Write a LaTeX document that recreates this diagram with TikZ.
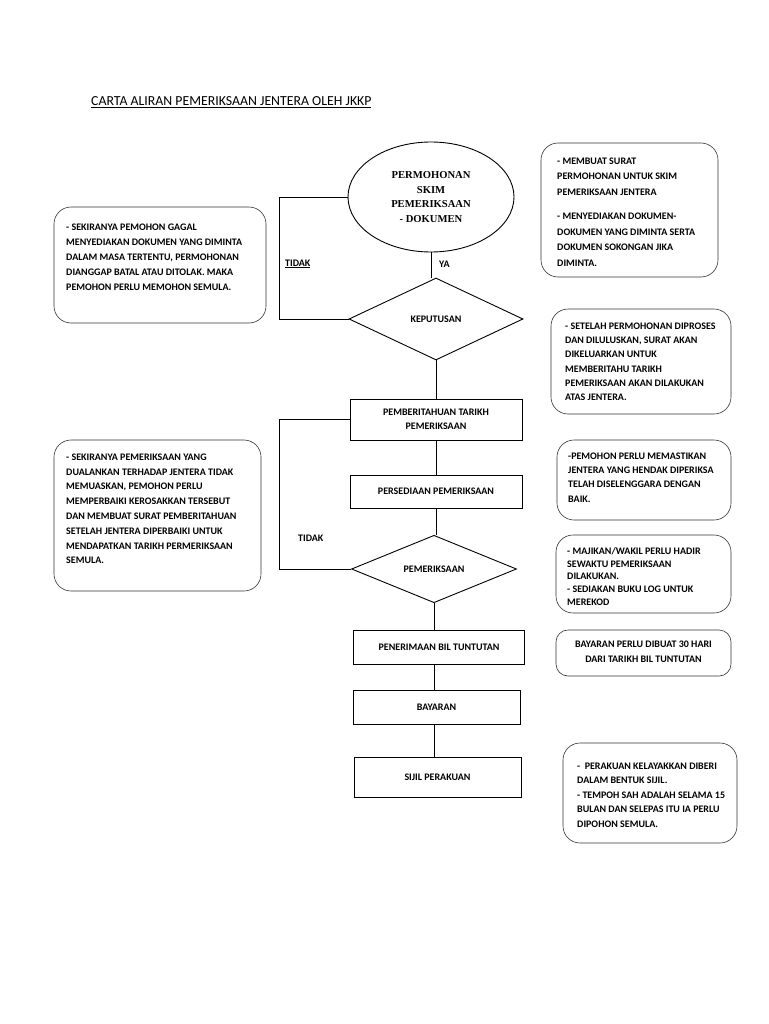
\documentclass[tikz,border=0pt]{standalone}
\usepackage{fontspec}
\setmainfont{Carlito}
\newfontfamily\serifb{Liberation Serif}
\usetikzlibrary{shapes.geometric}
\begin{document}
\begin{tikzpicture}[x=1pt,y=-1pt,
  flow/.style={draw=black, line width=0.9pt, inner sep=0pt, align=center,
    font=\bfseries\fontsize{10}{14}\selectfont},
  note/.style={draw=black!80, line width=0.6pt, rounded corners=17pt, inner sep=0pt},
  txt/.style={anchor=north west, inner sep=0pt, align=left,
    font=\bfseries\fontsize{10}{15}\selectfont},
  lbl/.style={inner sep=0pt, font=\bfseries\fontsize{10}{11}\selectfont},
  conn/.style={line width=0.9pt}]
\useasboundingbox (0,0) rectangle (768,1024);

% title
\node[anchor=west, inner sep=0pt, font=\fontsize{13.8}{15}\selectfont] (title) at (91,102)
  {\underline{CARTA ALIRAN PEMERIKSAAN JENTERA OLEH JKKP}};

% flow nodes
\node[flow, ellipse, minimum width=166, minimum height=110,
  font=\serifb\bfseries\fontsize{10.6}{14.5}\selectfont] (ell) at (431,197)
  {PERMOHONAN\\SKIM\\PEMERIKSAAN\\- DOKUMEN};
\node[flow, diamond, minimum width=174, minimum height=82] (dec) at (436,319) {KEPUTUSAN};
\node[flow, rectangle, minimum width=172, minimum height=41] (b1) at (436,419.5)
  {PEMBERITAHUAN TARIKH\\PEMERIKSAAN};
\node[flow, rectangle, minimum width=172, minimum height=33] (b2) at (436,491.5)
  {PERSEDIAAN PEMERIKSAAN};
\node[flow, diamond, minimum width=165, minimum height=48] (dec2) at (434,569) {PEMERIKSAAN};
\node[flow, rectangle, minimum width=171, minimum height=34] (b3) at (439,647)
  {PENERIMAAN BIL TUNTUTAN};
\node[flow, rectangle, minimum width=167, minimum height=34] (b4) at (436.5,707) {BAYARAN};
\node[flow, rectangle, minimum width=167, minimum height=40] (b5) at (437.5,777) {SIJIL PERAKUAN};

% connectors
\coordinate (lx) at (279,0);
\draw[conn] (ell.south) -- (ell.south |- dec.north);
\draw[conn] (ell.west) -- (ell.west -| lx) |- (dec.west);
\draw[conn] (dec.south) -- (dec.south |- b1.north);
\draw[conn] (b1.south) -- (b1.south |- b2.north);
\draw[conn] (b2.south) -- (b2.south |- dec2.north);
\draw[conn] (b1.west) -- (b1.west -| lx) |- (dec2.west);
\draw[conn] (dec2.south) -- (dec2.south |- b3.north);
\draw[conn] (b3.south -| dec2.south) -- (dec2.south |- b4.north);
\draw[conn] (b4.south -| dec2.south) -- (dec2.south |- b5.north);

% labels
\node[lbl, anchor=west] (tidak1) at (285,264) {\underline{TIDAK}};
\node[lbl, anchor=west] (ya) at (439,264) {YA};
\node[lbl, anchor=west] (tidak2) at (298,538) {TIDAK};

% notes
\node[note, minimum width=212, minimum height=116] (l1) at (160,265) {};
\node[txt] (l1t) at (66,223.5)
  {- SEKIRANYA PEMOHON GAGAL\\MENYEDIAKAN DOKUMEN YANG DIMINTA\\DALAM MASA TERTENTU, PERMOHONAN\\DIANGGAP BATAL ATAU DITOLAK. MAKA\\PEMOHON PERLU MEMOHON SEMULA.};

\node[note, minimum width=207, minimum height=151] (l2) at (157.5,515.5) {};
\node[txt, font=\bfseries\fontsize{10}{14.8}\selectfont] (l2t) at (66,453.5)
  {- SEKIRANYA PEMERIKSAAN YANG\\DUALANKAN TERHADAP JENTERA TIDAK\\MEMUASKAN, PEMOHON PERLU\\MEMPERBAIKI KEROSAKKAN TERSEBUT\\DAN MEMBUAT SURAT PEMBERITAHUAN\\SETELAH JENTERA DIPERBAIKI UNTUK\\MENDAPATKAN TARIKH PERMERIKSAAN\\SEMULA.};

\node[note, minimum width=177, minimum height=134] (r1) at (629.5,210) {};
\node[txt, font=\bfseries\fontsize{10}{15.5}\selectfont] (r1t) at (557,157.5)
  {- MEMBUAT SURAT\\PERMOHONAN UNTUK SKIM\\PEMERIKSAAN JENTERA\\[9pt]- MENYEDIAKAN DOKUMEN-\\DOKUMEN YANG DIMINTA SERTA\\DOKUMEN SOKONGAN JIKA\\DIMINTA.};

\node[note, minimum width=180, minimum height=105] (r2) at (641,361.5) {};
\node[txt, font=\bfseries\fontsize{10}{14.3}\selectfont] (r2t) at (565,322.5)
  {- SETELAH PERMOHONAN DIPROSES\\DAN DILULUSKAN, SURAT AKAN\\DIKELUARKAN UNTUK\\MEMBERITAHU TARIKH\\PEMERIKSAAN AKAN DILAKUKAN\\ATAS JENTERA.};

\node[note, minimum width=174, minimum height=80] (r3) at (644,480) {};
\node[txt, font=\bfseries\fontsize{10}{14.3}\selectfont] (r3t) at (568,452.5)
  {-PEMOHON PERLU MEMASTIKAN\\JENTERA YANG HENDAK DIPERIKSA\\TELAH DISELENGGARA DENGAN\\BAIK.};

\node[note, minimum width=175, minimum height=78] (r4) at (643.5,574) {};
\node[txt, font=\bfseries\fontsize{10}{12.6}\selectfont] (r4t) at (567,547.5)
  {- MAJIKAN/WAKIL PERLU HADIR\\SEWAKTU PEMERIKSAAN\\DILAKUKAN.\\- SEDIAKAN BUKU LOG UNTUK\\MEREKOD};

\node[note, rounded corners=12pt, minimum width=175, minimum height=46] (r5) at (643.5,653) {};
\node[txt, anchor=center, align=center, font=\bfseries\fontsize{10}{15}\selectfont] (r5t) at (643.5,652)
  {BAYARAN PERLU DIBUAT 30 HARI\\DARI TARIKH BIL TUNTUTAN};

\node[note, minimum width=174, minimum height=100] (r6) at (650,793) {};
\node[txt, font=\bfseries\fontsize{10}{14.5}\selectfont] (r6t) at (577,762.5)
  {-\ \ PERAKUAN KELAYAKKAN DIBERI\\DALAM BENTUK SIJIL.\\- TEMPOH SAH ADALAH SELAMA 15\\BULAN DAN SELEPAS ITU IA PERLU\\DIPOHON SEMULA.};
\end{tikzpicture}
\end{document}
